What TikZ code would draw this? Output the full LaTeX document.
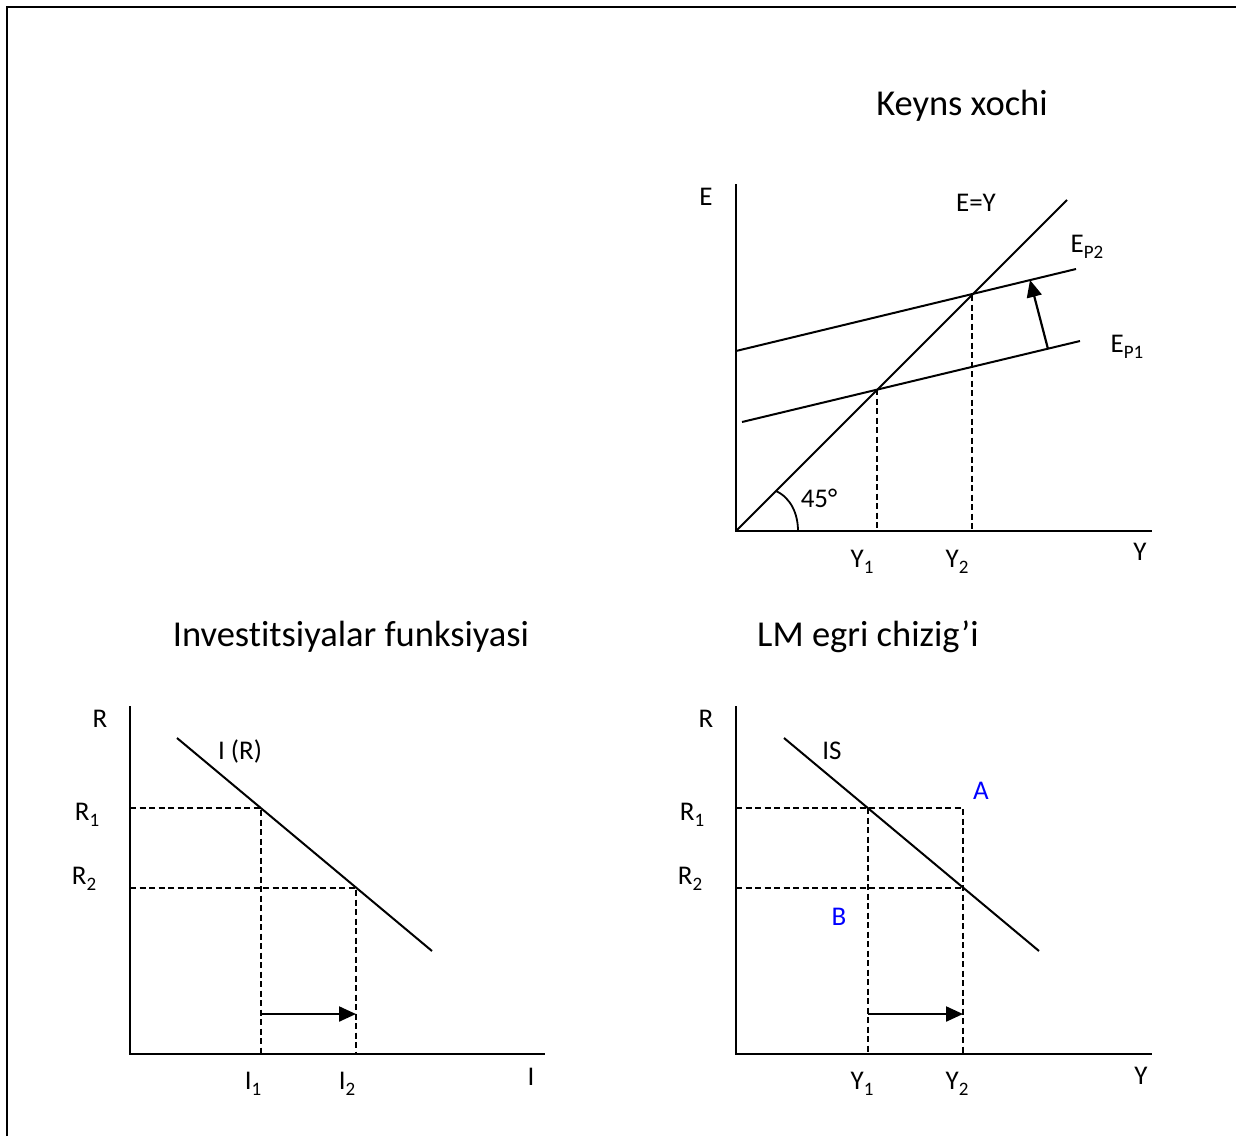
\documentclass[tikz,border=0pt]{standalone}
\usepackage{fontspec}
\setmainfont{Carlito}[Ligatures=NoCommon,RawFeature={-liga;-calt}]
\usetikzlibrary{arrows.meta}
\newcommand\mysub[1]{\raisebox{-0.2em}{\fontsize{19}{19}\selectfont #1}}
\begin{document}
\begin{tikzpicture}[x=1pt,y=-1pt,
  axis/.style={line width=2.6pt},
  curve/.style={line width=2pt},
  guide/.style={line width=2pt, dash pattern=on 6pt off 3.5pt},
  lbl/.style={font=\fontsize{27}{30}\selectfont, inner sep=0pt},
  ttl/.style={font=\fontsize{36.5}{40}\selectfont, inner sep=0pt},
  shiftarrow/.style={line width=2.2pt, -{Triangle[length=17pt,width=15pt]}}
]
\useasboundingbox (0,0) rectangle (1236,1136);
% frame
\draw[line width=2pt] (7,1136) -- (7,7) -- (1236,7);

% ================= Keynes cross =================
\node[ttl] (t1) at (962,106) {Keyns xochi};
\coordinate (O1) at (736,531);
\coordinate (O1top) at (736,184);
\coordinate (O1right) at (1152,531);
\draw[axis] (O1top) -- (O1) -- (O1right);
\coordinate (D1) at (1067,200);
\draw[curve] (O1) -- (D1);
\coordinate (P1a) at (742,422);
\coordinate (P1b) at (1080,341);
\coordinate (P2a) at (736,351);
\coordinate (P2b) at (1076,269);
\draw[curve] (P1a) -- (P1b);
\draw[curve] (P2a) -- (P2b);
\coordinate (X1) at (877,389);
\coordinate (X1b) at (877,531);
\coordinate (X2) at (972,295);
\coordinate (X2b) at (972,531);
\draw[guide] (X1) -- (X1b);
\draw[guide] (X2) -- (X2b);
\coordinate (S1) at (1048,349);
\coordinate (S2) at (1030,280);
\draw[shiftarrow] (S1) -- (S2);
\coordinate (ang1) at (776,491);
\coordinate (ang2) at (798,531);
\draw[line width=1.8pt] (ang1) .. controls (791,498) and (798,514) .. (ang2);
\node[lbl] (lE) at (706,197) {E};
\node[lbl] (lEY) at (976,203) {E=Y};
\node[lbl] (lEP2) at (1087,247) {E\mysub{P2}};
\node[lbl] (lEP1) at (1127,347) {E\mysub{P1}};
\node[lbl] (l45) at (819,498) {45°};
\node[lbl] (lY1a) at (862,562) {Y\mysub{1}};
\node[lbl] (lY2a) at (957,562) {Y\mysub{2}};
\node[lbl] (lYa) at (1140,552) {Y};

% ================= Investment =================
\node[ttl] (t2) at (351,637) {Invest\hbox{}itsiyalar funksiyasi};
\coordinate (O2) at (130,1054);
\coordinate (O2top) at (130,706);
\coordinate (O2right) at (545,1054);
\draw[axis] (O2top) -- (O2) -- (O2right);
\coordinate (IRa) at (177,738);
\coordinate (IRb) at (432,951);
\draw[curve] (IRa) -- (IRb);
\coordinate (r1a) at (130,808);
\coordinate (r1b) at (261,808);
\coordinate (r2a) at (130,888);
\coordinate (r2b) at (356,888);
\coordinate (i1) at (261,1054);
\coordinate (i2) at (356,1054);
\draw[guide] (r1a) -- (r1b) -- (i1);
\draw[guide] (r2a) -- (r2b) -- (i2);
\coordinate (ia1) at (261,1014);
\coordinate (ia2) at (356,1014);
\draw[shiftarrow] (ia1) -- (ia2);
\node[lbl] (lR) at (100,719) {R};
\node[lbl] (lIR) at (240,751) {I (R)};
\node[lbl] (lR1) at (87,815) {R\mysub{1}};
\node[lbl] (lR2) at (84,879) {R\mysub{2}};
\node[lbl] (lI1) at (253,1084) {I\mysub{1}};
\node[lbl] (lI2) at (347,1084) {I\mysub{2}};
\node[lbl] (lI) at (531,1077) {I};

% ================= LM / IS =================
\node[ttl] (t3) at (868,637) {LM egri chizig’i};
\coordinate (O3) at (736,1054);
\coordinate (O3top) at (736,706);
\coordinate (O3right) at (1152,1054);
\draw[axis] (O3top) -- (O3) -- (O3right);
\coordinate (ISa) at (784,738);
\coordinate (ISb) at (1039,951);
\draw[curve] (ISa) -- (ISb);
\coordinate (s1a) at (736,808);
\coordinate (s1b) at (963,808);
\coordinate (s2a) at (736,888);
\coordinate (s2b) at (963,888);
\coordinate (y2b) at (963,1054);
\coordinate (y1t) at (868,808);
\coordinate (y1b) at (868,1054);
\draw[guide] (s1a) -- (s1b) -- (y2b);
\draw[guide] (s2a) -- (s2b);
\draw[guide] (y1t) -- (y1b);
\coordinate (ya1) at (868,1014);
\coordinate (ya2) at (963,1014);
\draw[shiftarrow] (ya1) -- (ya2);
\node[lbl] (lRb) at (706,719) {R};
\node[lbl] (lIS) at (832,751) {IS};
\node[lbl, text=blue] (lA) at (981,791) {A};
\node[lbl, text=blue] (lB) at (839,917) {B};
\node[lbl] (lR1b) at (692,815) {R\mysub{1}};
\node[lbl] (lR2b) at (690,879) {R\mysub{2}};
\node[lbl] (lY1b) at (862,1084) {Y\mysub{1}};
\node[lbl] (lY2b) at (957,1084) {Y\mysub{2}};
\node[lbl] (lYb) at (1141,1076) {Y};
\end{tikzpicture}
\end{document}
